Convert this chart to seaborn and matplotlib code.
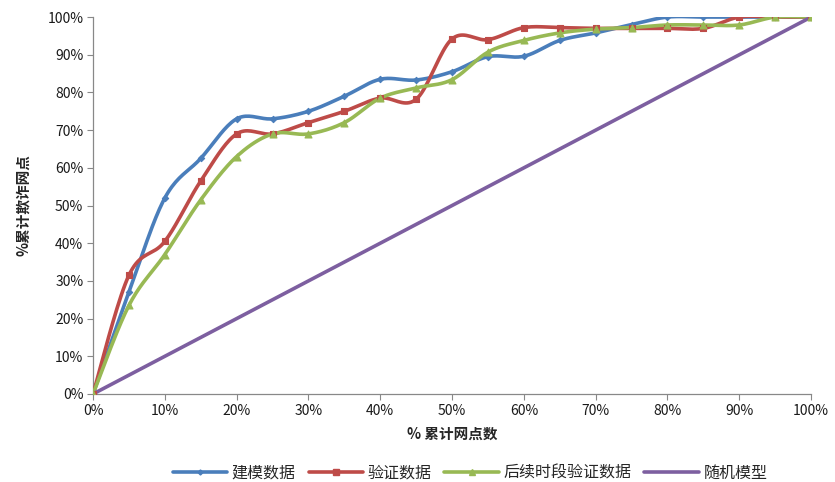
import numpy as np
import pandas as pd
import matplotlib
matplotlib.use("Agg")
import matplotlib.pyplot as plt
import seaborn as sns
from matplotlib.lines import Line2D
from matplotlib.ticker import PercentFormatter

# cumulative share of outlets (x) vs cumulative share of fraud outlets (y), in %
x_pct = [0, 5, 10, 15, 20, 25, 30, 35, 40, 45, 50, 55, 60, 65, 70, 75, 80, 85, 90, 95, 100]
modeling = [0, 27, 52, 62.5, 73, 73, 75, 79, 83.5, 83.3, 85.5, 89.5, 89.6, 93.8, 95.8, 98, 100, 100, 100, 100, 100]
validation = [0, 31.5, 40.5, 56.5, 69, 69, 72, 75, 78.5, 78.2, 94.2, 94, 97.2, 97.2, 97, 97, 97, 97, 100, 100, 100]
later_valid = [0, 23.5, 37, 51.5, 63, 69, 69, 72, 78.5, 81.2, 83.4, 90.7, 93.8, 95.8, 96.8, 97.2, 97.9, 97.9, 97.9, 100, 100]
random_x = [0, 100]
random_y = [0, 100]

series_names = ["建模数据", "验证数据", "后续时段验证数据", "随机模型"]
colors = ["#4A7EBB", "#BE4B48", "#98B954", "#7D5FA0"]
markers = ["D", "s", "^", None]
msizes = [3.2, 5, 5, 0]


def smooth(xs, ys, n=20):
    # Catmull-Rom style smoothing, like Excel's "smoothed line" option
    xs = np.asarray(xs, float)
    ys = np.asarray(ys, float)
    px = np.r_[xs[0], xs, xs[-1]]
    py = np.r_[ys[0], ys, ys[-1]]
    outx, outy = [], []
    t = np.linspace(0, 1, n, endpoint=False)
    for i in range(1, len(px) - 2):
        for arr, out in ((px, outx), (py, outy)):
            p0, p1, p2, p3 = arr[i - 1], arr[i], arr[i + 1], arr[i + 2]
            out.extend(0.5 * ((2 * p1) + (-p0 + p2) * t
                              + (2 * p0 - 5 * p1 + 4 * p2 - p3) * t ** 2
                              + (-p0 + 3 * p1 - 3 * p2 + p3) * t ** 3))
    outx.append(xs[-1])
    outy.append(ys[-1])
    return np.array(outx), np.array(outy)


sns.set_theme(style="white")
plt.rcParams["font.family"] = ["Noto Sans CJK SC", "DejaVu Sans"]

fig = plt.figure(figsize=(8.35, 4.82), dpi=100)
ax = fig.add_axes([0.1114, 0.1826, 0.86, 0.782])

data = [(x_pct, modeling), (x_pct, validation), (x_pct, later_valid), (random_x, random_y)]
for (xs, ys), name, c, m, ms in zip(data, series_names, colors, markers, msizes):
    sx, sy = smooth(xs, ys)
    sns.lineplot(x=sx, y=sy, sort=False, estimator=None, color=c, linewidth=2.6, ax=ax, zorder=3)
    if m:
        sns.scatterplot(x=xs, y=ys, marker=m, s=ms ** 2, color=c, edgecolor=c, linewidth=0.8, ax=ax, zorder=4)

ax.set_xlim(0, 100)
ax.set_ylim(0, 100)
ax.set_xticks(range(0, 101, 10))
ax.set_yticks(range(0, 101, 10))
ax.xaxis.set_major_formatter(PercentFormatter(decimals=0))
ax.yaxis.set_major_formatter(PercentFormatter(decimals=0))
ax.tick_params(axis="both", which="major", labelsize=10, colors="#222222", length=4,
               direction="out", bottom=True, left=True, width=0.8, pad=3)
for lab in ax.get_xticklabels() + ax.get_yticklabels():
    lab.set_color("#1a1a1a")
for side in ["top", "right"]:
    ax.spines[side].set_visible(False)
for side in ["left", "bottom"]:
    ax.spines[side].set_color("#888888")
    ax.spines[side].set_linewidth(0.9)
ax.tick_params(color="#888888")

ax.set_xlabel("% 累计网点数", fontsize=10.5, fontweight="bold", labelpad=6)
ax.set_ylabel("%累计欺诈网点", fontsize=10.5, fontweight="bold", labelpad=12)

handles = [Line2D([], [], color=c, linewidth=2.6, marker=m if m else None, markersize=ms * 0.8)
           for c, m, ms in zip(colors, markers, msizes)]
fig.legend(handles, series_names, loc="center", bbox_to_anchor=(0.563, 0.018), ncol=4, frameon=False,
           fontsize=11.5, handlelength=3.4, handletextpad=0.3, columnspacing=0.8)

fig.savefig("out.png", dpi=100)
